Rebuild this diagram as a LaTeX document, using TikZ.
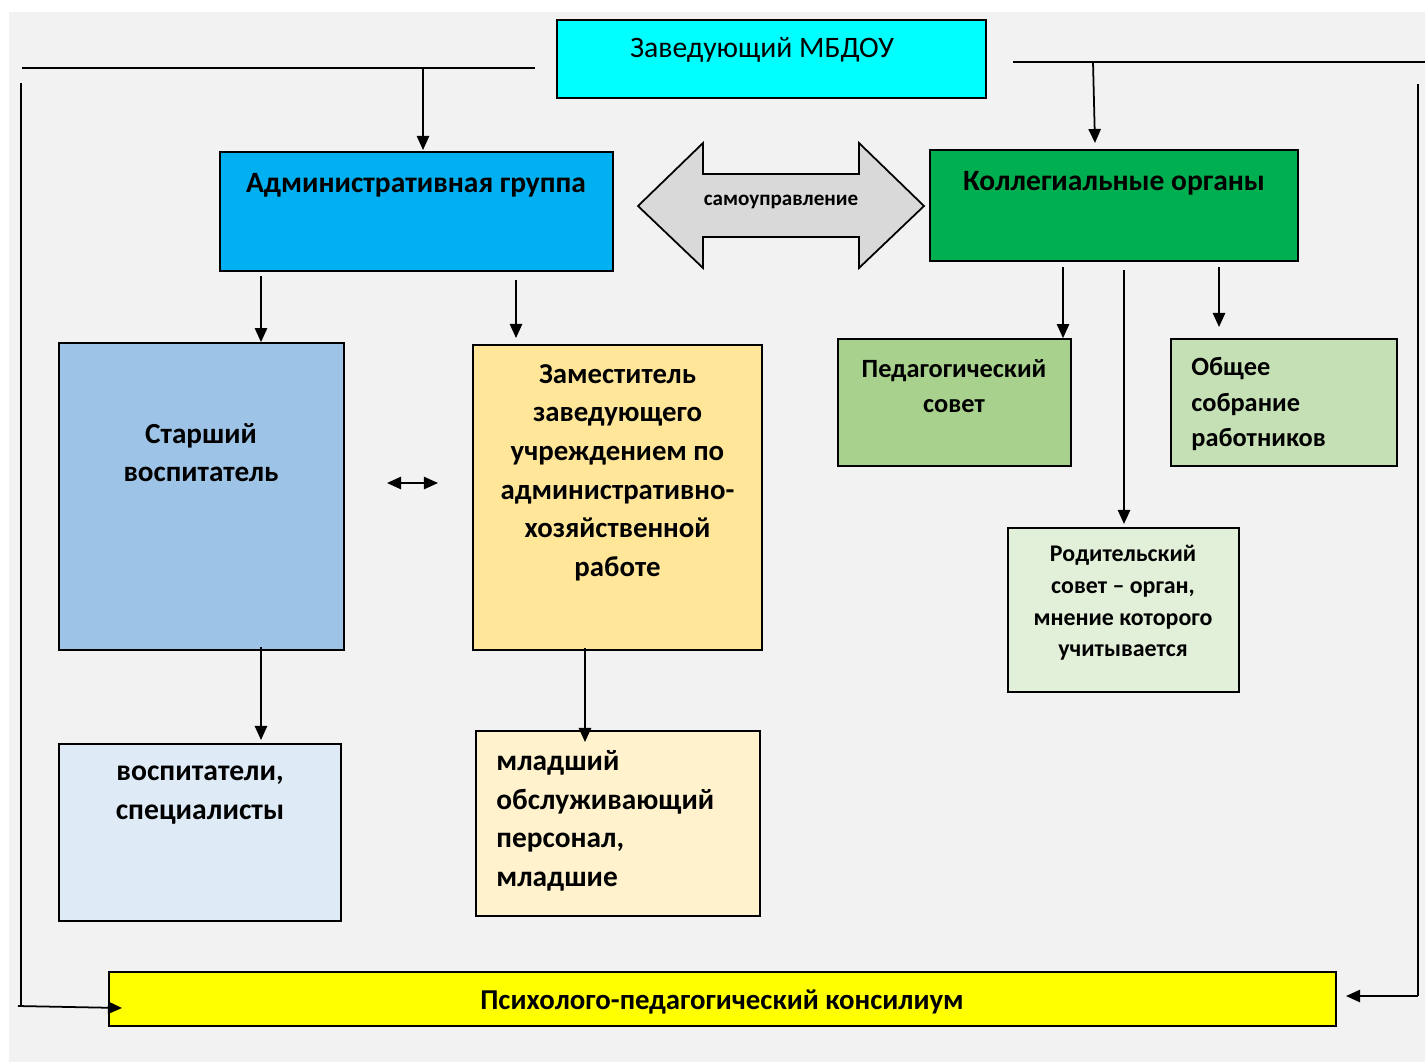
\documentclass[tikz,border=0pt]{standalone}
\usepackage{fontspec}
\setmainfont{Carlito}
\usetikzlibrary{arrows.meta,positioning}

\definecolor{bggray}{HTML}{F2F2F2}
\definecolor{zavcyan}{HTML}{00FFFF}
\definecolor{admblue}{HTML}{00B0F0}
\definecolor{kolgreen}{HTML}{00B050}
\definecolor{starblue}{HTML}{9DC3E6}
\definecolor{zamyellow}{HTML}{FFE699}
\definecolor{vospblue}{HTML}{DEEBF7}
\definecolor{mladcream}{HTML}{FFF2CC}
\definecolor{pedgreen}{HTML}{A9D18E}
\definecolor{obgreen}{HTML}{C5E0B4}
\definecolor{rodgreen}{HTML}{E2F0D9}
\definecolor{samogray}{HTML}{D9D9D9}
\definecolor{psiyellow}{HTML}{FFFF00}

\newlength{\unitpx}
\setlength{\unitpx}{0.02cm}

\tikzset{
  box/.style={draw, line width=1pt, inner sep=0pt},
  txt/.style={inner sep=0pt, align=center, font=\bfseries\fontsize{16.6}{22}\selectfont},
  arr/.style={line width=1pt, -{Triangle[length=8pt,width=7pt]}},
  link/.style={line width=1pt}
}

\begin{document}
\begin{tikzpicture}[x=\unitpx, y=-\unitpx]
\useasboundingbox (0,0) rectangle (1425,1062);
\fill[bggray] (9,12) rectangle (1425,1062);

% Boxes
\node[box, fill=zavcyan, minimum width=429\unitpx, minimum height=78\unitpx] (zav) at (771.5,59) {};
\node[box, fill=admblue, minimum width=393\unitpx, minimum height=119\unitpx] (adm) at (416.5,211.5) {};
\node[box, fill=kolgreen, minimum width=368\unitpx, minimum height=111\unitpx] (kol) at (1114,205.5) {};
\node[box, fill=starblue, minimum width=285\unitpx, minimum height=307\unitpx] (star) at (201.5,496.5) {};
\node[box, fill=zamyellow, minimum width=289\unitpx, minimum height=305\unitpx] (zam) at (617.5,497.5) {};
\node[box, fill=vospblue, minimum width=282\unitpx, minimum height=177\unitpx] (vosp) at (200,832.5) {};
\node[box, fill=mladcream, minimum width=284\unitpx, minimum height=185\unitpx] (mlad) at (618,823.5) {};
\node[box, fill=pedgreen, minimum width=233\unitpx, minimum height=127\unitpx] (ped) at (954.5,402.5) {};
\node[box, fill=obgreen, minimum width=226\unitpx, minimum height=127\unitpx] (obsh) at (1284,402.5) {};
\node[box, fill=rodgreen, minimum width=231\unitpx, minimum height=164\unitpx] (rod) at (1123.5,610) {};
\node[box, fill=psiyellow, minimum width=1227\unitpx, minimum height=54\unitpx] (psi) at (722.5,999) {};

% Self-government arrow
\draw[line width=1pt, fill=samogray] (638,206) -- (703,143) -- (703,174) -- (859,174) -- (859,143)
  -- (924,206) -- (859,268) -- (859,237) -- (703,237) -- (703,268) -- cycle;

% Texts
\node[txt, font=\fontsize{16.9}{22}\selectfont] (zav-t) at (762,50) {Заведующий МБДОУ};
\node[txt, font=\bfseries\fontsize{16.8}{22}\selectfont] (adm-t) at (416,185) {Административная группа};
\node[txt, font=\bfseries\fontsize{16.8}{22}\selectfont] (kol-t) at (1114,183) {Коллегиальные органы};
\node[txt, font=\bfseries\fontsize{12}{15}\selectfont] (samo-t) at (781,202) {самоуправление};
\node[txt] (star-t) at (201,452.5) {Старший\\воспитатель};
\node[txt, font=\bfseries\fontsize{16.4}{22}\selectfont] (zam-t) at (617.5,472.5) {Заместитель\\заведующего\\учреждением по\\административно-\\хозяйственной\\работе};
\node[txt, font=\bfseries\fontsize{16.9}{22}\selectfont] (vosp-t) at (200,795) {воспитатели,\\специалисты};
\node[txt, anchor=west, align=left, font=\bfseries\fontsize{16.7}{22}\selectfont] (mlad-t) at (496,821) {младший\\обслуживающий\\персонал,\\младшие};
\node[txt, font=\bfseries\fontsize{15}{20}\selectfont] (ped-t) at (954,386) {Педагогический\\совет};
\node[txt, anchor=west, align=left, font=\bfseries\fontsize{15}{20}\selectfont] (obsh-t) at (1191,404) {Общее\\собрание\\работников};
\node[txt, font=\bfseries\fontsize{13.6}{18}\selectfont] (rod-t) at (1123,603) {Родительский\\совет – орган,\\мнение которого\\учитывается};
\node[txt, font=\bfseries\fontsize{16.4}{22}\selectfont] (psi-t) at (722,1002) {Психолого-педагогический консилиум};

% Top lines
\coordinate (tl-a) at (22,68);
\coordinate (tl-b) at (535,68);
\coordinate (tl-c) at (423,68);
\coordinate (tr-a) at (1013,62);
\coordinate (tr-b) at (1425,62);
\coordinate (tr-c) at (1093,62);
\draw[link] (tl-a) -- (tl-b);
\draw[link] (tr-a) -- (tr-b);
\draw[arr] (tl-c) -- (423,150);
\draw[arr] (tr-c) -- (1095,143);

% Side lines to the council
\coordinate (sl-a) at (21,83);
\coordinate (sl-b) at (21,1005);
\coordinate (sl-c) at (18,1006);
\coordinate (sr-a) at (1418,84);
\coordinate (sr-b) at (1418,996);
\draw[link] (sl-a) -- (sl-b);
\draw[arr] (sl-c) -- (122,1008);
\draw[link] (sr-a) -- (sr-b);
\draw[arr] (sr-b) -- (1346,996);

% Administrative branch
\coordinate (adm-l) at (261,276);
\coordinate (adm-r) at (516,280);
\draw[arr] (adm-l) -- (adm-l |- star.north);
\draw[arr] (adm-r) -- (516,338);
\draw[line width=1pt, {Triangle[length=8pt,width=7pt]}-{Triangle[length=8pt,width=7pt]}] (387,483) -- (438,483);
\coordinate (star-b) at (261,647);
\coordinate (zam-b) at (585,648);
\draw[arr] (star-b) -- (261,740);
\draw[arr] (zam-b) -- (585,742);

% Collegial branch
\coordinate (kol-a) at (1063,267);
\coordinate (kol-b) at (1124,270);
\coordinate (kol-c) at (1219,267);
\draw[arr] (kol-a) -- (kol-a |- ped.north);
\draw[arr] (kol-b) -- (1124,524);
\draw[arr] (kol-c) -- (1219,327);
\end{tikzpicture}
\end{document}
